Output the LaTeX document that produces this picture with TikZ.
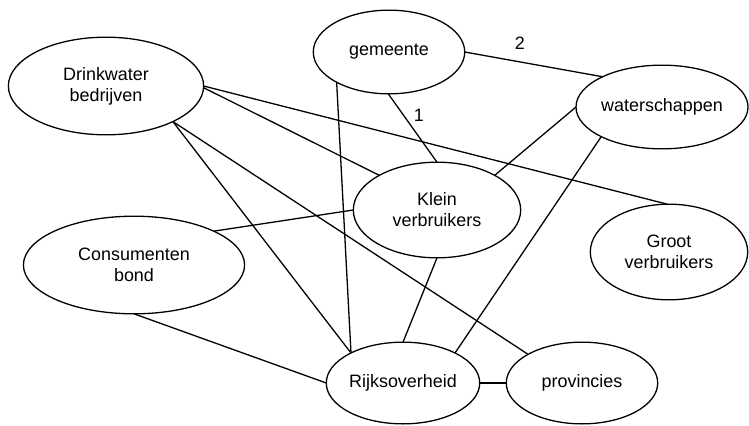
\documentclass[tikz,border=0pt]{standalone}
\usepackage{fontspec}
\setmainfont{Liberation Sans}
\usetikzlibrary{shapes.geometric}
\tikzset{
  party/.style={draw, ellipse, line width=1.3pt, inner sep=0pt, outer sep=0pt,
    align=center, font=\fontsize{18}{21}\selectfont},
  link/.style={line width=1.3pt}
}

\begin{document}
\begin{tikzpicture}[x=1bp, y=-1bp]
\useasboundingbox (0,0) rectangle (749,425);
% actors
\node[party, minimum width=196, minimum height=98] (drink) at (106,86) {Drinkwater\\bedrijven};
\node[party, minimum width=152, minimum height=84] (gem) at (389,52) {gemeente};
\node[party, minimum width=172, minimum height=84] (water) at (662,107) {waterschappen};
\node[party, minimum width=168, minimum height=96] (klein) at (437,210) {Klein\\verbruikers};
\node[party, minimum width=222, minimum height=98] (consum) at (134,265) {Consumenten\\bond};
\node[party, minimum width=158, minimum height=96] (groot) at (669,252) {Groot\\verbruikers};
\node[party, minimum width=154, minimum height=82] (rijk) at (403,383) {Rijksoverheid};
\node[party, minimum width=152, minimum height=82] (prov) at (582,383) {provincies};
% relations
\draw[link] (drink.-1) -- (klein.149);
\draw[link] (drink.0) -- (groot.92);
\draw[link] (drink.-28) -- (rijk.150);
\draw[link] (drink.-28) -- (prov.152);
\draw[link] (gem.210) -- (rijk.150);
\draw[link] (gem.269) -- node[pos=0.32, right=6pt, font=\fontsize{18}{21}\selectfont] {1} (klein.90);
\draw[link] (gem.0) -- node[pos=0.4, above=8pt, font=\fontsize{18}{21}\selectfont] {2} (water.153);
\draw[link] (water.180) -- (klein.31);
\draw[link] (water.206) -- (rijk.30);
\draw[link] (consum.23) -- (klein.180);
\draw[link] (consum.270) -- (rijk.180);
\draw[link] (klein.270) -- (rijk.90);
\draw[link] (rijk.0) -- (prov.180);
\end{tikzpicture}
\end{document}
